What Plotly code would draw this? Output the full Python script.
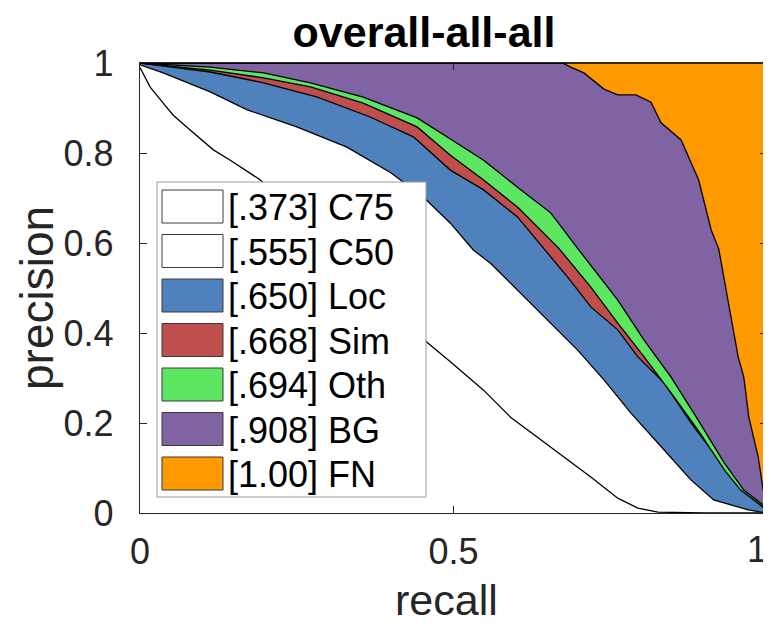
import plotly.graph_objects as go

# ---------------- data ----------------
labels = ["[.373] C75", "[.555] C50", "[.650] Loc", "[.668] Sim", "[.694] Oth", "[.908] BG", "[1.00] FN"]
colors = ["#FFFFFF", "#FFFFFF", "#4F82BD", "#BF4F4D", "#5CE661", "#8063A3", "#FF9900"]

x_tick_vals = [0, 0.5, 1]
x_tick_text = ["0", "0.5", "1"]
y_tick_vals = [0, 0.2, 0.4, 0.6, 0.8, 1]
y_tick_text = ["0", "0.2", "0.4", "0.6", "0.8", "1"]

c75_r = [0, 0.016, 0.037, 0.053, 0.08, 0.117, 0.144, 0.192, 0.25, 0.30, 0.35, 0.40, 0.459, 0.495, 0.548, 0.591, 0.655, 0.719, 0.762, 0.794, 0.826, 0.9, 1.0]
c75_p = [0.99, 0.947, 0.911, 0.884, 0.851, 0.807, 0.784, 0.74, 0.66, 0.59, 0.52, 0.455, 0.378, 0.336, 0.273, 0.213, 0.147, 0.08, 0.033, 0.011, 0.002, 0.0, 0.0]

c50_r = [0, 0.037, 0.112, 0.171, 0.25, 0.33, 0.4, 0.452, 0.495, 0.532, 0.559, 0.596, 0.634, 0.698, 0.74, 0.783, 0.836, 0.879, 0.915, 0.97, 1.0]
c50_p = [0.996, 0.978, 0.936, 0.896, 0.858, 0.813, 0.756, 0.702, 0.644, 0.584, 0.555, 0.503, 0.451, 0.362, 0.296, 0.222, 0.14, 0.073, 0.029, 0.007, 0.0]

loc_r = [0, 0.112, 0.197, 0.283, 0.367, 0.436, 0.495, 0.548, 0.602, 0.644, 0.682, 0.719, 0.762, 0.794, 0.836, 0.879, 0.915, 0.947, 0.974, 1.0]
loc_p = [1.0, 0.98, 0.956, 0.924, 0.88, 0.836, 0.762, 0.718, 0.658, 0.588, 0.524, 0.458, 0.407, 0.347, 0.289, 0.2, 0.133, 0.08, 0.036, 0.005]

sim_r = [0, 0.112, 0.197, 0.272, 0.356, 0.442, 0.495, 0.548, 0.602, 0.668, 0.719, 0.762, 0.804, 0.847, 0.89, 0.932, 0.958, 1.0]
sim_p = [1.0, 0.984, 0.967, 0.947, 0.911, 0.858, 0.795, 0.74, 0.68, 0.588, 0.502, 0.422, 0.347, 0.267, 0.184, 0.096, 0.051, 0.007]

oth_r = [0, 0.112, 0.197, 0.272, 0.356, 0.442, 0.495, 0.548, 0.602, 0.655, 0.698, 0.762, 0.804, 0.847, 0.89, 0.932, 0.963, 1.0]
oth_p = [1.0, 0.991, 0.978, 0.956, 0.924, 0.878, 0.831, 0.784, 0.724, 0.667, 0.588, 0.473, 0.384, 0.302, 0.207, 0.111, 0.051, 0.011]

bg_r = [0, 0.674, 0.687, 0.708, 0.74, 0.762, 0.791, 0.815, 0.831, 0.863, 0.891, 0.911, 0.923, 0.938, 0.954, 0.963, 0.971, 0.986, 0.994, 1.0]
bg_p = [1.0, 1.0, 0.991, 0.978, 0.942, 0.929, 0.929, 0.913, 0.867, 0.829, 0.74, 0.629, 0.587, 0.473, 0.347, 0.302, 0.213, 0.124, 0.051, 0.029]

fn_r = [0, 1.0]
fn_p = [1.0, 1.0]

series = [(c75_r, c75_p), (c50_r, c50_p), (loc_r, loc_p), (sim_r, sim_p),
          (oth_r, oth_p), (bg_r, bg_p), (fn_r, fn_p)]

# ---------------- figure ----------------
OFF = 8                      # page body margin
W, H = 771 - OFF, 626 - OFF
L, R, T, B = 140, 767, 63, 513   # plot area in page pixels
FONT = "Liberation Sans, Arial"

fig = go.Figure()
for i, (r, p) in enumerate(series):
    fig.add_trace(go.Scatter(
        x=r, y=p, mode="lines",
        line=dict(color="black", width=1.3),
        fill="tozeroy" if i == 0 else "tonexty",
        fillcolor=colors[i], name=labels[i], showlegend=False,
        hoverinfo="skip"))

def px(x):
    return (x - L) / (R - L)

def py(y):
    return (B - y) / (B - T)

shapes = []
annotations = []
# legend box
shapes.append(dict(type="rect", xref="paper", yref="paper",
                   x0=px(157), x1=px(426), y0=py(497), y1=py(182),
                   line=dict(color="#9a9a9a", width=1), fillcolor="white", layer="above"))
row0, pitch, sh = 190, 44.5, 33
for i, lab in enumerate(labels):
    top = row0 + i * pitch
    shapes.append(dict(type="rect", xref="paper", yref="paper",
                       x0=px(162), x1=px(223), y0=py(top + sh), y1=py(top),
                       line=dict(color="#3a3a3a", width=1), fillcolor=colors[i], layer="above"))
    annotations.append(dict(xref="paper", yref="paper", x=px(226), y=py(top + sh / 2 + 1),
                            xanchor="left", yanchor="middle", text=lab, showarrow=False,
                            font=dict(family=FONT, size=36, color="black")))

# last x tick label, kept inside the page edge as in the reference
annotations.append(dict(xref="x", yref="paper", x=x_tick_vals[-1], y=py(549),
                        xanchor="right", yanchor="middle", text=x_tick_text[-1],
                        showarrow=False, xshift=2,
                        font=dict(family=FONT, size=36, color="#262626")))

# axis titles
annotations.append(dict(xref="paper", yref="paper", x=px(446), y=py(600),
                        xanchor="center", yanchor="middle", text="recall", showarrow=False,
                        font=dict(family=FONT, size=43, color="#262626")))
annotations.append(dict(xref="paper", yref="paper", x=px(37), y=py(298),
                        xanchor="center", yanchor="middle", text="precision", showarrow=False,
                        textangle=-90,
                        font=dict(family=FONT, size=46, color="#262626")))

axis_common = dict(showgrid=False, zeroline=False, showline=True, linecolor="#262626",
                   linewidth=1.3, mirror="ticks", ticks="inside", ticklen=7,
                   tickcolor="#262626", tickwidth=1, automargin=False,
                   ticklabeloverflow="allow",
                   tickfont=dict(family=FONT, size=36, color="#262626"))

fig.update_layout(
    width=W, height=H,
    margin=dict(l=L - OFF, r=W - (R - OFF), t=T - OFF, b=H - (B - OFF), autoexpand=False),
    paper_bgcolor="white", plot_bgcolor="white",
    title=dict(text="<b>overall-all-all</b>", x=(424 - OFF) / W, xanchor="center",
               y=1 - (32 - OFF) / H, yanchor="middle", yref="container", automargin=False,
               font=dict(family=FONT, size=43, color="black")),
    xaxis=dict(range=[0, 1], tickvals=x_tick_vals,
               ticktext=x_tick_text[:-1] + [""],
               ticklabelstandoff=7, **axis_common),
    yaxis=dict(range=[0, 1], tickvals=y_tick_vals, ticktext=y_tick_text,
               ticklabelstandoff=18, **axis_common),
    shapes=shapes, annotations=annotations,
    showlegend=False,
)

fig.write_html("out.html")
